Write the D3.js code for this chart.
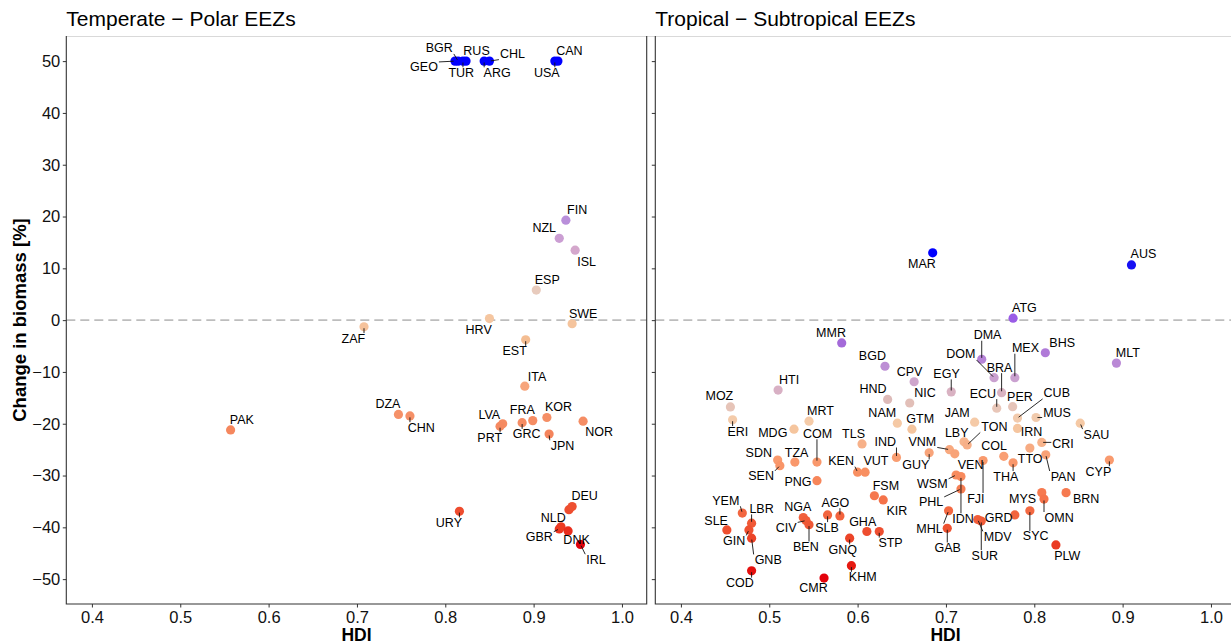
<!DOCTYPE html>
<html>
<head>
<meta charset="utf-8">
<script src="https://cdn.jsdelivr.net/npm/d3@7"></script>
<style>
  html, body { margin: 0; padding: 0; background: #fff; }
  svg { display: block; font-family: "Liberation Sans", Arial, sans-serif; }
</style>
</head>
<body>
<svg id="chart" width="1231" height="644"></svg>
<script>
// ---- Data: EEZ biomass change vs. Human Development Index ----
const panelTitles = ["Temperate \u2212 Polar EEZs", "Tropical \u2212 Subtropical EEZs"];

const temperateCodes = ["GEO","BGR","TUR","RUS","ARG","CHL","USA","CAN","FIN","NZL","ISL","ESP","HRV","SWE","ZAF","EST",
  "ITA","DZA","CHN","PAK","LVA","PRT","GRC","FRA","KOR","JPN","NOR","URY","","DEU","GBR","NLD","DNK","IRL"];
const temperateHDI = [0.811,0.8145,0.820,0.8235,0.844,0.850,0.924,0.9275,0.9365,0.929,0.947,0.903,0.850,0.9436,0.708,0.891,
  0.890,0.747,0.760,0.557,0.865,0.862,0.887,0.899,0.915,0.9175,0.956,0.816,0.940,0.9436,0.929,0.931,0.939,0.953];
const temperateChange = [50,50,50,50,50,50,50,50,19.3,15.8,13.5,5.8,0.3,-0.7,-1.3,-3.8,
  -12.75,-18.2,-18.5,-21.2,-20.0,-20.5,-19.8,-19.4,-18.8,-22.0,-19.5,-36.9,-36.6,-36.0,-40.3,-39.9,-40.7,-43.3];

const tropicalCodes = ["MAR","AUS","ATG","MMR","BGD","CPV","EGY","HTI","MOZ","HND","NIC","DMA","DOM","BRA","MEX","BHS","MLT",
  "ECU","PER","CUB","MUS","JAM","LBY","TON","IRN","CRI","SAU","TTO","COL","THA","PAN","CYP","VNM","VEN","GUY","GTM","NAM",
  "IND","TLS","MRT","MDG","COM","ERI","SDN","SEN","TZA","PNG","KEN","VUT","WSM","IDN","FJI","PHL","MHL","GAB","GRD","MDV",
  "SUR","MYS","OMN","BRN","SYC","PLW","YEM","LBR","SLE","GIN","GNB","COD","NGA","CIV","BEN","AGO","SLB","GHA","STP","GNQ",
  "FSM","KIR","KHM","CMR"];
const tropicalHDI = [0.685,0.910,0.776,0.582,0.631,0.664,0.706,0.510,0.456,0.634,0.659,0.7405,0.7545,0.763,0.778,0.8125,0.893,
  0.7575,0.7755,0.781,0.802,0.7325,0.7205,0.724,0.781,0.8085,0.852,0.795,0.7655,0.776,0.813,0.885,0.704,0.710,0.681,0.6615,0.645,
  0.644,0.605,0.545,0.528,0.554,0.4585,0.5095,0.512,0.529,0.554,0.600,0.6085,0.7115,0.717,0.742,0.717,0.703,0.7015,0.778,0.736,
  0.740,0.8085,0.811,0.836,0.795,0.8245,0.4695,0.480,0.452,0.477,0.480,0.480,0.5385,0.5415,0.545,0.580,0.566,0.6105,0.6245,0.591,
  0.619,0.629,0.593,0.562];
const tropicalChange = [13.0,10.65,0.37,-4.4,-8.9,-11.9,-13.85,-13.5,-16.75,-15.3,-16.0,-7.55,-11.1,-14.0,-11.1,-6.3,-8.3,
  -17.0,-16.7,-18.9,-18.8,-19.7,-23.5,-24.1,-20.9,-23.6,-19.9,-24.7,-26.3,-27.55,-26.0,-27.0,-25.0,-25.8,-25.6,-21.05,-19.9,
  -26.5,-23.9,-19.5,-21.05,-27.4,-19.25,-27.0,-28.1,-27.4,-31.0,-29.35,-29.35,-29.9,-30.2,-27.1,-32.6,-36.8,-40.2,-37.6,-38.5,
  -38.8,-33.3,-34.55,-33.3,-36.8,-43.4,-37.25,-39.2,-40.5,-40.5,-42.1,-48.4,-38.1,-38.7,-39.5,-37.8,-37.6,-40.8,-40.8,-42.1,
  -33.9,-34.7,-47.4,-49.8];

const xTicks = [0.4, 0.5, 0.6, 0.7, 0.8, 0.9, 1.0];
const yTicks = [-50, -40, -30, -20, -10, 0, 10, 20, 30, 40, 50];

// ---- Label placement: pixel offsets of each text label from its point ----
const temperateLabelNudge = {
  GEO:[-31,6.3], BGR:[-18.8,-12.7], TUR:[-1.7,11.7], RUS:[10.5,-10.3], CHL:[23,-7], ARG:[13,11.7], CAN:[11.5,-10.3], USA:[-8,11.7],
  FIN:[11.3,-10], NZL:[-15,-10], ISL:[11.4,11.4], ESP:[11,-10], SWE:[11,-10], HRV:[-10.8,11.3], ZAF:[-10.7,11.7], EST:[-11,11.6],
  ITA:[12.3,-9.6], DZA:[-10.5,-10.4], CHN:[11.3,11.7], PAK:[11.3,-9.6], LVA:[-13.4,-9], PRT:[-10.3,11.6], FRA:[-10.4,-10.3],
  GRC:[4.6,11.7], KOR:[11.6,-10.4], JPN:[13.5,11.7], NOR:[16,11], URY:[-10.5,11.6], DEU:[12.5,-10.3], NLD:[-7.8,-9.3],
  GBR:[-20,8.3], DNK:[8.5,8.7], IRL:[15.5,15.3]
};
const tropicalLabelNudge = {
  MAR:[-10.7,11.3], AUS:[12,-11], ATG:[11.4,-10.3], MMR:[-10.7,-10.3], BGD:[-12.6,-10.3], CPV:[-4.6,-10], EGY:[-4.7,-18],
  HTI:[11,-10.3], MOZ:[-11,-10.7], HND:[-14.6,-10.4], NIC:[15.3,-10], DMA:[5.8,-24], DOM:[-33.2,-23.2], BRA:[-2,-25],
  MEX:[10.6,-29.4], BHS:[16.9,-10], MLT:[11.4,-10], ECU:[-13.9,-14.6], PER:[7.3,-9.7], CUB:[39.3,-24.6], MUS:[21,-4.4],
  JAM:[-17.5,-9.6], LBY:[-7.3,-9], TON:[27.2,-18], IRN:[14,3.3], CRI:[21.3,1.4], SAU:[16.2,11.4], TTO:[0.3,11.3],
  COL:[-9.7,-10.7], THA:[-7.3,13.7], PAN:[17.3,21.7], CYP:[-11,11.7], VNM:[-27.1,-7.7], VEN:[15.8,11], GUY:[-13.3,12.3],
  GTM:[8.3,-10], NAM:[-15.1,-10.6], IND:[-11.2,-15.4], TLS:[-8.5,-10.3], MRT:[11.5,-10.3], MDG:[-21.2,4], COM:[0.5,-28.3],
  ERI:[5.3,11.7], SDN:[-18.9,-7.3], SEN:[-18.8,10.7], TZA:[1.7,-9], PNG:[-19,1.3], KEN:[-16.5,-11], VUT:[10.8,-11],
  WSM:[-23.8,9.3], IDN:[2,42.2], FJI:[-7.2,38], PHL:[-29.9,13.4], MHL:[-19.1,18.3], GAB:[0.5,19.6], GRD:[-16.3,2.7],
  MDV:[20,17.3], SUR:[3.5,34.5], MYS:[-19.2,6], OMN:[15.2,18.4], BRN:[20,6], SYC:[5.8,25.7], PLW:[11.3,10.7],
  YEM:[-16.5,-12.3], LBR:[10,-14.3], SLE:[-10.7,-9.3], GIN:[-14.8,11], GNB:[16.6,21.7], COD:[-11.7,12.3], NGA:[-5.5,-10],
  CIV:[-19.7,7.3], BEN:[-3.2,22.3], AGO:[-4.5,-13.3], SLB:[-0.5,12.7], GHA:[-4.2,-9.4], STP:[11.3,11.6], GNQ:[-7,11.7],
  FSM:[11.5,-10], KIR:[13.7,10.7], KHM:[11.3,11.7], CMR:[-10.6,10]
};

// ---- Colour scales (one per panel, red = loss, blue = gain) ----
const temperateColour = d3.scaleLinear()
  .domain([-43.3, -40, -37, -20, -12.75, -3.8, 0.3, 5.8, 13.5, 17, 50])
  .range(["#e0000b","#ec3a22","#ee4c2e","#f58b62","#f7a57c","#f4bd92","#f5c6a0","#e8cbbd","#d4a7cc","#c79ad7","#0000ff"])
  .interpolate(d3.interpolateRgb).clamp(true);
const tropicalColour = d3.scaleLinear()
  .domain([-50, -48, -43.4, -40.5, -37.5, -33.3, -29.5, -27, -24, -21, -19.5, -17, -15.3, -13.5, -11, -8.5, -6.3, -4.4, 0.4, 10, 13])
  .range(["#e3000a","#e51510","#ea3a22","#ee5030","#f2653f","#f67a50","#f88e60","#f99a6e","#f7b088","#f5c59e","#f5cba8",
          "#e8c6b8","#ddbab8","#d8b0c4","#c9a0d0","#bb8ad6","#b07ad8","#a46ad9","#9a5ce6","#1c14f0","#0000ff"])
  .interpolate(d3.interpolateRgb).clamp(true);

// ---- Layout ----
const svg = d3.select("#chart");
const plotTop = 36, plotBottom = 604, panelWidth = 580.4;
const panels = [
  { x0: 66.3, codes: temperateCodes, hdi: temperateHDI, change: temperateChange, nudge: temperateLabelNudge, colour: temperateColour, yLabels: true },
  { x0: 655.3, codes: tropicalCodes, hdi: tropicalHDI, change: tropicalChange, nudge: tropicalLabelNudge, colour: tropicalColour, yLabels: false }
];
const y = d3.scaleLinear().domain([-54.8, 54.85]).range([plotBottom, plotTop]);
const axisColour = "#333333";
const pointR = 4.6;

// light rule along the top of both panels
svg.append("line")
  .attr("x1", 66.3).attr("x2", 1231).attr("y1", plotTop + 0.5).attr("y2", plotTop + 0.5)
  .attr("stroke", "#d9d9d9").attr("stroke-width", 1);

panels.forEach((p, i) => {
  const x = d3.scaleLinear().domain([0.371, 1.028]).range([p.x0, p.x0 + panelWidth]);
  const g = svg.append("g");

  // panel title
  g.append("text").attr("x", p.x0).attr("y", 26)
    .attr("font-size", 21).attr("fill", "#000").text(panelTitles[i]);

  // zero reference
  g.append("line")
    .attr("x1", p.x0).attr("x2", p.x0 + panelWidth)
    .attr("y1", y(0)).attr("y2", y(0))
    .attr("stroke", "#bdbdbd").attr("stroke-width", 1.6).attr("stroke-dasharray", "9,5");

  // y axis
  const yAxis = d3.axisLeft(y).tickValues(yTicks).tickSize(3.5).tickPadding(2.5)
    .tickFormat(p.yLabels ? d3.format("d") : () => "");
  const ya = g.append("g").attr("transform", `translate(${p.x0},0)`).call(yAxis);
  ya.select(".domain").remove();
  ya.selectAll(".tick line").attr("stroke", axisColour).attr("stroke-width", 1);
  ya.selectAll(".tick text").attr("font-size", 16.5).attr("fill", "#111").attr("font-family", "Liberation Sans, Arial, sans-serif");

  // x axis
  const xAxis = d3.axisBottom(x).tickValues(xTicks).tickSize(3.5).tickPadding(3.5).tickFormat(d3.format(".1f"));
  const xa = g.append("g").attr("transform", `translate(0,${plotBottom})`).call(xAxis);
  xa.select(".domain").remove();
  xa.selectAll(".tick line").attr("stroke", axisColour).attr("stroke-width", 1);
  xa.selectAll(".tick text").attr("font-size", 16.5).attr("fill", "#111").attr("font-family", "Liberation Sans, Arial, sans-serif");

  // panel frame: left, right, bottom
  g.append("path")
    .attr("d", `M${p.x0},${plotTop}V${plotBottom}H${p.x0 + panelWidth}V${plotTop}`)
    .attr("fill", "none").attr("stroke", axisColour).attr("stroke-width", 1.1);

  // x axis title
  g.append("text").attr("x", p.x0 + panelWidth / 2).attr("y", 640.5)
    .attr("text-anchor", "middle").attr("font-size", 17.5).attr("font-weight", "bold").text("HDI");

  // points
  const pts = p.codes.map((c, k) => ({ code: c, px: x(p.hdi[k]), py: y(p.change[k]), v: p.change[k] }));
  g.append("g").selectAll("circle").data(pts).join("circle")
    .attr("cx", d => d.px).attr("cy", d => d.py).attr("r", pointR)
    .attr("fill", d => p.colour(d.v));

  // labels with leader segments
  const segs = g.append("g");
  const labels = g.append("g");
  pts.forEach(d => {
    if (!d.code) return;
    const off = p.nudge[d.code] || [11, -10];
    const lx = d.px + off[0], ly = d.py + off[1];
    const t = labels.append("text").attr("x", lx).attr("y", ly)
      .attr("text-anchor", "middle").attr("dominant-baseline", "central")
      .attr("font-size", 12.5).attr("fill", "#000").text(d.code);
    const hw = t.node().getComputedTextLength() / 2 + 1, hh = 5.5;
    const nx = Math.max(lx - hw, Math.min(d.px, lx + hw));
    const ny = Math.max(ly - hh, Math.min(d.py, ly + hh));
    const dist = Math.hypot(nx - d.px, ny - d.py);
    if (dist > pointR + 1.5) {
      const ux = (nx - d.px) / dist, uy = (ny - d.py) / dist;
      segs.append("line")
        .attr("x1", d.px + ux * (pointR * 0.3)).attr("y1", d.py + uy * (pointR * 0.3))
        .attr("x2", nx).attr("y2", ny)
        .attr("stroke", "#111").attr("stroke-width", 0.9);
    }
  });
});

// y axis title
svg.append("text")
  .attr("transform", `translate(26,${(plotTop + plotBottom) / 2}) rotate(-90)`)
  .attr("text-anchor", "middle").attr("font-size", 18.5).attr("font-weight", "bold")
  .text("Change in biomass [%]");
</script>
</body>
</html>
